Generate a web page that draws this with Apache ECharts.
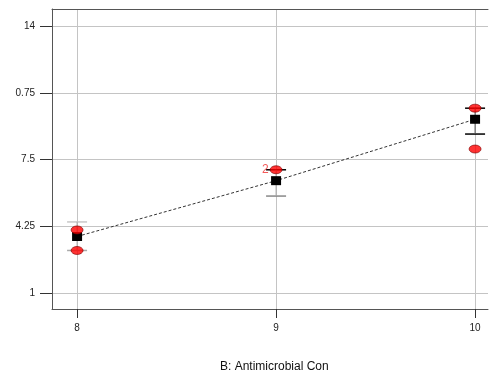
<!DOCTYPE html>
<html><head><meta charset="utf-8">
<script src="https://cdn.jsdelivr.net/npm/echarts@6/dist/echarts.min.js"></script>
<style>html,body{margin:0;padding:0;background:#fff}#c{width:493px;height:373px}</style>
</head><body><div id="c"></div>
<script>
// Data
const xCats = [8, 9, 10];
const meanValues = [3.75, 6.47, 9.46];
const lowBar = [3.07, 5.72, 8.74];
const highBar = [4.46, 7.00, 10.0];
const obsX = [8, 8, 9, 10, 10];
const obsY = [4.07, 3.07, 7.00, 10.0, 8.01];
const obsLabels = ['', '', '2', '', ''];
const yTicks = [1, 4.25, 7.5, 10.75, 14];
const yTickLabels = ['1', '4.25', '7.5', '0.75', '14'];
const xTicks = [8, 9, 10];
const xTitle = 'B: Antimicrobial Con';

const capColorsTop = ['#c8c8c8', '#000', '#000'];
const capColorsBot = ['#aaa', '#888', '#000'];

const chart = echarts.init(document.getElementById('c'));
const font = 'Liberation Sans, Arial, sans-serif';
chart.setOption({
  animation: false,
  grid: {left: 52, top: 9, right: 5, bottom: 64},
  xAxis: [{
    type: 'value', min: 7.874, max: 10.065,
    axisLine: {show: true, onZero: false, lineStyle: {color: '#555', width: 1}},
    axisTick: {show: true, length: 9, customValues: xTicks, lineStyle: {color: '#333'}},
    axisLabel: {customValues: xTicks, margin: 14, fontSize: 10, color: '#222', fontFamily: font},
    splitLine: {show: true, lineStyle: {color: '#c4c4c4', width: 1}}
  }, {
    type: 'value', min: 7.874, max: 10.065, position: 'top',
    axisLine: {show: true, onZero: false, lineStyle: {color: '#555', width: 1}},
    axisTick: {show: false}, axisLabel: {show: false}, splitLine: {show: false}
  }],
  yAxis: {
    type: 'value', min: 0.22, max: 14.83,
    axisLine: {show: true, onZero: false, lineStyle: {color: '#555', width: 1}},
    axisTick: {show: true, length: 12, customValues: yTicks, lineStyle: {color: '#333'}},
    axisLabel: {customValues: yTicks, margin: 17, fontSize: 10, color: '#222', fontFamily: font,
      formatter: v => { const i = yTicks.findIndex(t => Math.abs(t - v) < 1e-6); return i >= 0 ? yTickLabels[i] : ''; }},
    splitLine: {show: true, lineStyle: {color: '#c4c4c4', width: 1}}
  },
  graphic: [{
    type: 'text', left: 275 - 55, top: 361,
    style: {text: xTitle, fontSize: 12, fill: '#111', fontFamily: font}
  }],
  series: [
    {
      type: 'custom', z: 3,
      data: xCats.map((x, i) => [x, lowBar[i], highBar[i], i]),
      renderItem: (params, api) => {
        const x = api.value(0), i = api.value(3);
        const lo = api.coord([x, api.value(1)]);
        const hi = api.coord([x, api.value(2)]);
        const w = 10;
        return {type: 'group', children: [
          {type: 'line', shape: {x1: hi[0]-w, y1: hi[1], x2: hi[0]+w, y2: hi[1]}, style: {stroke: capColorsTop[i], lineWidth: 1.5}},
          {type: 'line', shape: {x1: lo[0]-w, y1: lo[1], x2: lo[0]+w, y2: lo[1]}, style: {stroke: capColorsBot[i], lineWidth: 1.5}},
          {type: 'line', shape: {x1: lo[0], y1: lo[1], x2: hi[0], y2: hi[1]}, style: {stroke: i === 2 ? '#555' : '#aaa', lineWidth: 1}}
        ]};
      }
    },
    {
      type: 'line', z: 4,
      data: xCats.map((x, i) => [x, meanValues[i]]),
      symbol: 'rect', symbolSize: [10, 9],
      itemStyle: {color: '#000'},
      lineStyle: {color: '#333', width: 1, type: [3, 2]}
    },
    {
      type: 'scatter', z: 5,
      data: obsX.map((x, i) => ({value: [x, obsY[i]], label: {show: obsLabels[i] !== '', formatter: obsLabels[i]}})),
      symbol: 'circle', symbolSize: [12, 8],
      itemStyle: {color: '#ff0000', borderColor: '#800000', borderWidth: 0.8},
      label: {position: 'left', distance: 1, color: '#f03030', fontSize: 12, fontFamily: font}
    }
  ]
});
</script></body></html>
